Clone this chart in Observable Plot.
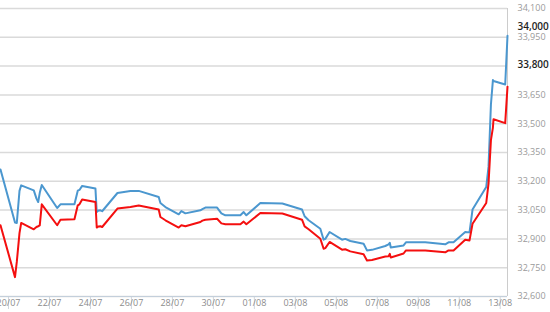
<!DOCTYPE html>
<html>
<head>
<meta charset="utf-8">
<script src="https://cdn.jsdelivr.net/npm/d3@7"></script>
<script src="https://cdn.jsdelivr.net/npm/@observablehq/plot@0.6"></script>
<style>
  html, body { margin: 0; padding: 0; background: #fff; }
  #chart { width: 550px; height: 312px; overflow: hidden; }
</style>
</head>
<body>
<div id="chart"></div>
<script>
const times = [
  "2020-07-19T14:38","2020-07-20T07:37","2020-07-20T09:43","2020-07-20T12:53","2020-07-20T14:52",
  "2020-07-21T05:37","2020-07-21T08:47","2020-07-21T10:46","2020-07-21T12:38","2020-07-21T14:59",
  "2020-07-22T09:01","2020-07-22T12:53","2020-07-23T05:16","2020-07-23T09:08","2020-07-23T11:07",
  "2020-07-23T14:17","2020-07-24T05:51","2020-07-24T07:22","2020-07-24T09:22","2020-07-24T11:43",
  "2020-07-24T13:42","2020-07-25T07:37","2020-07-25T22:50","2020-07-26T08:33","2020-07-27T07:58",
  "2020-07-27T09:57","2020-07-27T15:48","2020-07-28T07:22","2020-07-28T10:32","2020-07-28T15:13",
  "2020-07-29T08:47","2020-07-29T11:07","2020-07-29T14:38","2020-07-30T04:20","2020-07-30T09:22",
  "2020-07-30T14:03","2020-07-31T07:37","2020-07-31T11:28","2020-07-31T14:38","2020-08-01T07:01",
  "2020-08-02T08:47","2020-08-03T07:50","2020-08-03T10:53","2020-08-03T15:34","2020-08-04T05:16",
  "2020-08-04T09:08","2020-08-04T11:07","2020-08-04T16:09","2020-08-05T06:40","2020-08-05T10:32",
  "2020-08-05T16:23","2020-08-06T07:58","2020-08-06T11:56","2020-08-06T17:47","2020-08-07T09:22",
  "2020-08-07T13:14","2020-08-07T14:38","2020-08-07T15:48","2020-08-08T06:47","2020-08-08T09:36",
  "2020-08-09T08:12","2020-08-10T07:37","2020-08-10T11:28","2020-08-10T17:20","2020-08-11T07:01",
  "2020-08-11T12:03","2020-08-11T15:34","2020-08-12T07:37","2020-08-12T10:18","2020-08-12T13:07",
  "2020-08-12T15:27","2020-08-12T16:09","2020-08-13T05:51","2020-08-13T08:32"
];
const blueValues = [
  33261,32985,32983,33150,33179,
  33153,33110,33092,33140,33181,
  33061,33080,33080,33151,33155,
  33176,33162,33040,33048,33049,
  33044,33139,33150,33150,33118,
  33087,33066,33028,33045,33033,
  33049,33055,33063,33063,33033,
  33023,33023,33040,33023,33087,
  33084,33053,33018,32997,32953,
  32896,32900,32936,32896,32900,
  32889,32875,32840,32843,32863,
  32872,32880,32855,32866,32882,
  32882,32872,32882,32882,32936,
  32934,33053,33170,33275,33600,
  33727,33722,33704,33958
];
const redValues = [
  32971,32701,32780,32930,32983,
  32950,32962,32966,32970,33080,
  32971,33000,33002,33075,33080,
  33105,33092,32959,32965,32966,
  32962,33058,33066,33074,33053,
  33014,32997,32959,32971,32966,
  32988,32995,33000,33005,32981,
  32976,32976,32990,32976,33035,
  33032,33000,32965,32950,32901,
  32849,32852,32884,32844,32846,
  32835,32820,32788,32790,32808,
  32810,32822,32803,32824,32840,
  32840,32830,32840,32840,32896,
  32892,32979,33087,33188,33414,
  33480,33523,33503,33693
];
const xTickDates = ["2020-07-20","2020-07-22","2020-07-24","2020-07-26","2020-07-28","2020-07-30",
  "2020-08-01","2020-08-03","2020-08-05","2020-08-07","2020-08-09","2020-08-11","2020-08-13"];
const yTicks = [32600,32750,32900,33050,33200,33350,33500,33650,33800,33950,34100];
const markerValues = [34000, 33800];

const parse = s => new Date(s + (s.length > 10 ? ":00Z" : "T00:00:00Z"));
const data = times.map((t, i) => ({date: parse(t), blue: blueValues[i], red: redValues[i]}));
const xTicks = xTickDates.map(parse);
const xDomain = [data[0].date, data[data.length - 1].date];
const fmt = d3.format(",");
const yLabelTicks = yTicks.filter(v => !markerValues.includes(v));

const chart = Plot.plot({
  width: 550,
  height: 312,
  marginLeft: 0,
  marginRight: 43,
  marginTop: 8,
  marginBottom: 16,
  style: {fontFamily: "'Open Sans', sans-serif", background: "#fff", overflow: "hidden"},
  x: {type: "utc", domain: xDomain},
  y: {domain: [32600, 34100]},
  marks: [
    Plot.gridY(yTicks, {stroke: "#dadada", strokeOpacity: 1, strokeWidth: 1.5}),
    Plot.axisY(yLabelTicks, {anchor: "right", tickSize: 0, tickPadding: 10, tickFormat: fmt,
      fill: "#9a9a9a", fontSize: 9, label: null}),
    Plot.axisX(xTicks, {anchor: "bottom", tickSize: 13, tickPadding: -10,
      tickFormat: d3.utcFormat("%d/%m"), fill: "#8c8c8c", stroke: "#cfd6dd", fontSize: 9, label: null}),
    Plot.ruleY([32600], {stroke: "#c3cfdb", strokeWidth: 1.2}),
    Plot.ruleX([xDomain[1]], {stroke: "#cccccc", strokeWidth: 1}),
    Plot.line(data, {x: "date", y: "blue", stroke: "#4b97cf", strokeWidth: 2}),
    Plot.line(data, {x: "date", y: "red", stroke: "#f40f0f", strokeWidth: 2}),
    Plot.text(markerValues, {y: d => d, frameAnchor: "right", dx: 10, textAnchor: "start",
      text: d => fmt(d), fill: "#1e1e1e", fontSize: 10, fontWeight: 600, dy: -1})
  ]
});
document.getElementById("chart").appendChild(chart);
</script>
</body>
</html>
